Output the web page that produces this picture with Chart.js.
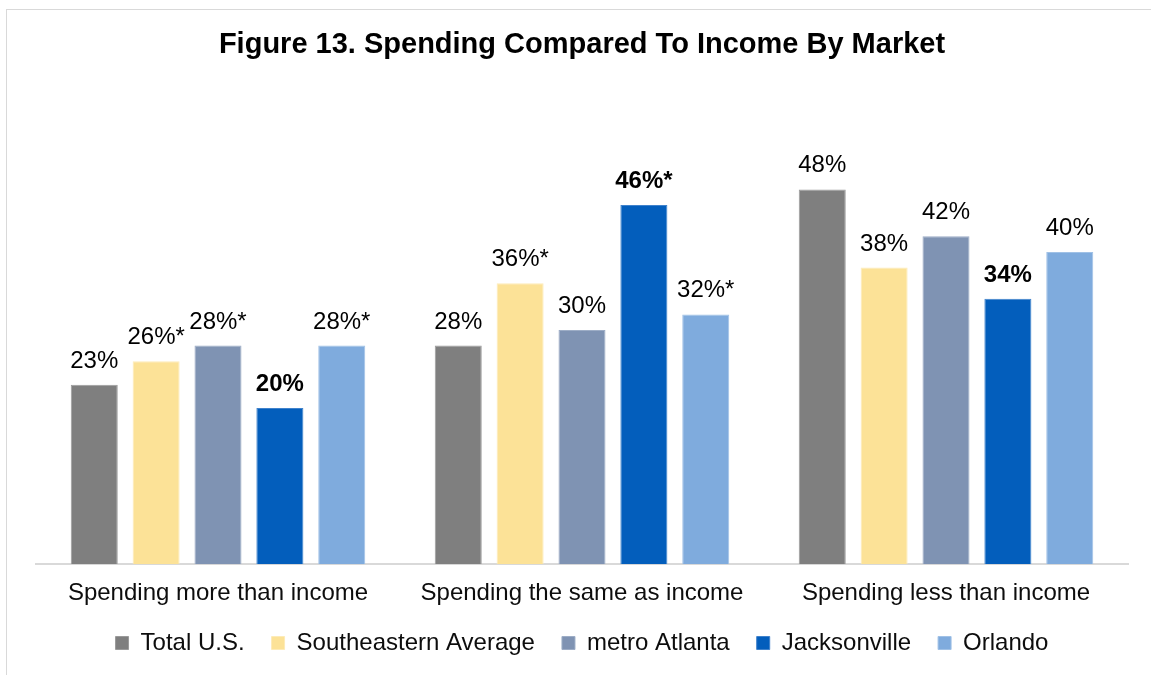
<!DOCTYPE html>
<html>
<head>
<meta charset="utf-8">
<script src="https://cdn.jsdelivr.net/npm/chart.js@4"></script>
<style>
  html, body { margin: 0; padding: 0; background: #fff; }
  #wrap { position: relative; width: 1151px; height: 675px; overflow: hidden; }
  #frame { position: absolute; left: 6px; top: 9px; right: -2px; bottom: -2px;
           border-left: 1px solid #d9d9d9; border-top: 1px solid #d9d9d9; pointer-events: none; }
  canvas { position: absolute; left: 0; top: 0; }
</style>
</head>
<body>
<div id="wrap">
  <div id="frame"></div>
  <canvas id="spendChart" width="1151" height="675"></canvas>
</div>
<script>
const categories = ['Spending more than income', 'Spending the same as income', 'Spending less than income'];

const totalUS = [23, 28, 48];
const southeastern = [26, 36, 38];
const metroAtlanta = [28, 30, 42];
const jacksonville = [20, 46, 34];
const orlando = [28, 32, 40];

// asterisk marks shown after the value labels
const starTotalUS = [false, false, false];
const starSoutheastern = [true, true, false];
const starAtlanta = [true, false, false];
const starJacksonville = [false, true, false];
const starOrlando = [true, true, false];

const FONT = "'Liberation Sans', Arial, sans-serif";

const series = [
    { label: 'Total U.S.', data: totalUS, stars: starTotalUS, color: '#7f7f7f', edge: '#9a9a9a', bold: false },
    { label: 'Southeastern Average', data: southeastern, stars: starSoutheastern, color: '#fce297', edge: '#fdebb8', bold: false },
    { label: 'metro Atlanta', data: metroAtlanta, stars: starAtlanta, color: '#7f93b3', edge: '#9dadc6', bold: false },
    { label: 'Jacksonville', data: jacksonville, stars: starJacksonville, color: '#035ebc', edge: '#3f82cc', bold: true },
    { label: 'Orlando', data: orlando, stars: starOrlando, color: '#7fabdd', edge: '#a0c1e6', bold: false },
];

// value labels above each bar
const valueLabels = {
    id: 'valueLabels',
    afterDatasetsDraw(chart) {
        const ctx = chart.ctx;
        ctx.save();
        ctx.textAlign = 'center';
        ctx.textBaseline = 'alphabetic';
        ctx.fillStyle = '#000';
        series.forEach((s, di) => {
            const meta = chart.getDatasetMeta(di);
            ctx.font = (s.bold ? 'bold ' : '') + '24px ' + FONT;
            meta.data.forEach((bar, i) => {
                const txt = s.data[i] + '%' + (s.stars[i] ? '*' : '');
                ctx.fillText(txt, bar.x, bar.y - 17);
            });
        });
        ctx.restore();
    }
};

// legend sits tighter under the category labels than the layout allows
const legendNudge = {
    id: 'legendNudge',
    afterLayout(chart) {
        const lg = chart.legend;
        lg.top -= 19;
        lg.bottom -= 19;
    }
};

const ctx = document.getElementById('spendChart').getContext('2d');
new Chart(ctx, {
    type: 'bar',
    data: {
        labels: categories,
        datasets: series.map(s => ({
            label: s.label,
            data: s.data,
            backgroundColor: s.color,
            borderColor: s.edge,
            borderWidth: 1,
            barPercentage: 0.76,
            categoryPercentage: 0.85,
        })),
    },
    options: {
        responsive: false,
        animation: false,
        layout: { padding: { left: 36, right: 23, top: 0, bottom: -9 } },
        scales: {
            x: {
                grid: { display: false, drawTicks: false },
                border: { display: true, color: '#d9d9d9', width: 2 },
                ticks: {
                    color: '#0d0d0d',
                    padding: 15,
                    font: { family: FONT, size: 24 },
                },
            },
            y: {
                display: false,
                min: 0,
                max: 60,
            },
        },
        plugins: {
            title: {
                display: true,
                text: 'Figure 13. Spending Compared To Income By Market',
                color: '#000',
                font: { family: FONT, size: 29, weight: 'bold' },
                padding: { top: 28, bottom: 33 },
            },
            legend: {
                position: 'bottom',
                labels: {
                    color: '#0d0d0d',
                    boxWidth: 13,
                    boxHeight: 13,
                    padding: 27,
                    font: { family: FONT, size: 24 },
                },
            },
            tooltip: { enabled: false },
        },
    },
    plugins: [valueLabels, legendNudge],
});
</script>
</body>
</html>
